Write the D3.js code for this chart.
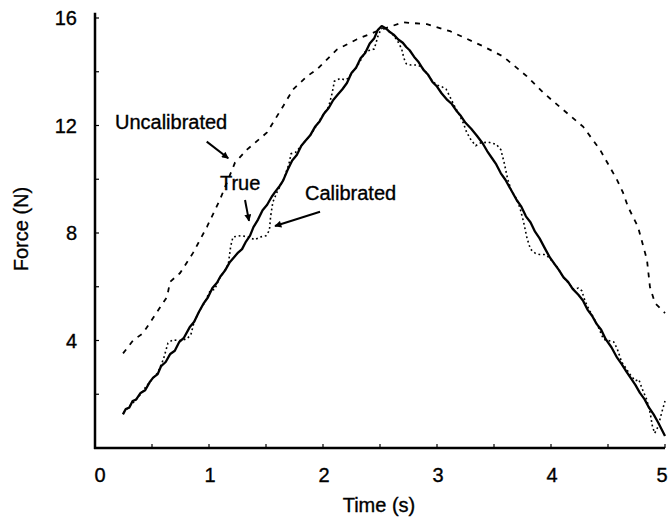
<!DOCTYPE html>
<html>
<head>
<meta charset="utf-8">
<script src="https://cdn.jsdelivr.net/npm/d3@7"></script>
<style>
  html, body { margin: 0; padding: 0; background: #fff; }
  svg { display: block; }
  text { font-family: "Liberation Sans", Arial, sans-serif; fill: #000; stroke: #000; stroke-width: 0.35px; }
</style>
</head>
<body>
<svg id="chart" width="670" height="520"></svg>
<script>
// ---------- data ----------
const xTicks = [0, 1, 2, 3, 4, 5];
const xMinorTicks = [0.5, 1, 1.5, 2, 2.5, 3, 3.5, 4, 4.5, 5];
const yTicks = [4, 8, 12, 16];
const yMinorTicks = [2, 4, 6, 8, 10, 12, 14, 16];

const trueT = [0.245,0.27,0.30,0.33,0.36,0.40,0.44,0.48,0.51,0.55,0.58,0.62,0.66,0.70,0.74,0.78,0.83,0.87,0.91,0.95,0.99,1.03,1.07,1.10,1.14,1.18,1.22,1.25,1.29,1.32,1.36,1.39,1.43,1.47,1.51,1.55,1.58,1.62,1.65,1.69,1.73,1.77,1.81,1.85,1.89,1.93,1.97,2.01,2.05,2.09,2.13,2.17,2.21,2.25,2.29,2.33,2.37,2.41,2.45,2.48,2.515,2.55,2.58,2.62,2.66,2.70,2.73,2.76,2.80,2.84,2.88,2.92,2.96,3.00,3.04,3.09,3.13,3.17,3.21,3.25,3.30,3.35,3.40,3.44,3.48,3.52,3.56,3.60,3.65,3.70,3.74,3.78,3.82,3.86,3.90,3.95,3.99,4.03,4.07,4.11,4.15,4.19,4.24,4.28,4.32,4.36,4.40,4.44,4.48,4.53,4.58,4.62,4.66,4.70,4.74,4.78,4.82,4.86,4.90,4.94,4.97,5.00];
const trueF = [1.25,1.45,1.50,1.75,1.80,2.05,2.15,2.45,2.62,2.75,3.05,3.20,3.50,3.62,3.95,4.10,4.49,4.70,5.05,5.36,5.60,5.95,6.15,6.38,6.60,6.90,7.10,7.25,7.40,7.65,7.90,8.22,8.50,8.85,9.05,9.35,9.53,9.75,9.95,10.35,10.70,10.90,11.25,11.45,11.65,11.95,12.15,12.45,12.65,12.95,13.15,13.35,13.58,13.95,14.15,14.50,14.70,15.05,15.25,15.55,15.70,15.62,15.50,15.38,15.20,15.08,14.92,14.80,14.55,14.35,14.08,13.90,13.62,13.45,13.20,12.95,12.80,12.55,12.35,12.10,11.88,11.62,11.34,11.05,10.80,10.55,10.22,9.98,9.60,9.22,8.98,8.62,8.40,8.05,7.80,7.40,7.09,6.85,6.62,6.35,6.18,5.92,5.70,5.49,5.15,4.92,4.62,4.40,4.05,3.75,3.36,3.12,2.85,2.60,2.35,2.05,1.82,1.50,1.25,0.95,0.70,0.45];

const calT = [0.25,0.30,0.35,0.40,0.45,0.50,0.55,0.60,0.64,0.68,0.74,0.80,0.84,0.87,0.91,0.96,1.01,1.05,1.09,1.13,1.17,1.19,1.21,1.28,1.35,1.40,1.45,1.50,1.53,1.54,1.56,1.60,1.65,1.70,1.72,1.76,1.80,1.85,1.90,1.95,2.00,2.05,2.08,2.10,2.15,2.19,2.22,2.26,2.30,2.34,2.37,2.41,2.45,2.48,2.51,2.54,2.58,2.62,2.66,2.69,2.71,2.73,2.77,2.82,2.86,2.90,2.95,3.00,3.04,3.08,3.11,3.15,3.19,3.23,3.26,3.30,3.34,3.38,3.45,3.52,3.56,3.59,3.62,3.65,3.70,3.73,3.76,3.79,3.82,3.86,3.90,3.94,3.98,4.02,4.06,4.10,4.15,4.20,4.24,4.27,4.30,4.34,4.38,4.42,4.46,4.50,4.55,4.58,4.62,4.66,4.70,4.74,4.77,4.80,4.84,4.87,4.89,4.91,4.94,4.97,5.00];
const calF = [1.30,1.55,1.75,2.00,2.30,2.55,2.80,3.30,3.90,4.02,4.00,4.05,4.20,4.70,5.05,5.40,5.85,5.90,6.30,6.55,6.85,7.50,7.85,7.90,7.85,7.75,7.85,7.90,8.10,8.60,9.15,9.55,9.95,10.55,10.95,11.00,11.20,11.45,11.70,12.05,12.40,12.70,13.20,13.65,13.75,13.70,13.75,14.00,14.20,14.50,14.75,14.80,14.85,15.30,15.60,15.65,15.50,15.35,15.10,14.85,14.50,14.30,14.25,14.25,14.20,14.00,13.70,13.50,13.45,13.35,13.10,12.75,12.45,12.10,11.75,11.45,11.25,11.35,11.38,11.30,11.10,10.60,10.00,9.60,9.25,8.90,8.40,7.80,7.40,7.25,7.20,7.20,7.10,6.90,6.70,6.40,6.15,5.90,5.95,5.85,5.45,5.10,4.80,4.45,4.05,4.00,3.95,3.70,3.20,2.95,2.70,2.50,2.55,2.20,1.80,1.30,0.80,0.55,0.80,1.30,1.75];

const uncalT = [0.246,0.333,0.421,0.544,0.632,0.658,0.746,0.860,0.982,1.096,1.228,1.333,1.404,1.509,1.649,1.737,1.860,1.947,2.123,2.298,2.474,2.702,2.912,3.114,3.404,3.579,3.789,3.930,4.105,4.281,4.430,4.579,4.632,4.675,4.763,4.842,4.868,4.912,5.000];
const uncalF = [3.52,4.00,4.27,5.06,5.62,6.18,6.51,7.26,8.23,9.24,10.62,11.10,11.36,11.74,12.71,13.34,13.83,14.09,14.83,15.21,15.51,15.84,15.77,15.51,14.95,14.57,13.83,13.23,12.59,11.96,11.10,9.98,9.50,8.98,8.23,7.00,5.99,5.39,5.02];

const labels = ["Uncalibrated", "True", "Calibrated"];

// ---------- scales ----------
const svg = d3.select("#chart");
const x = d3.scaleLinear().domain([0, 5]).range([95, 665]);
const y = d3.scaleLinear().domain([0, 16]).range([448, 18]);

const zip = (a, b) => a.map((v, i) => [v, b[i]]);
const line = d3.line().x(d => x(d[0])).y(d => y(d[1]));

// ---------- axes ----------
const axisColor = "#000";
svg.append("line").attr("x1", x(0)).attr("x2", x(0))
  .attr("y1", y(16.2)).attr("y2", y(0) + 1)
  .attr("stroke", axisColor).attr("stroke-width", 2.5);
svg.append("line").attr("x1", x(0) - 1).attr("x2", x(5))
  .attr("y1", y(0)).attr("y2", y(0))
  .attr("stroke", axisColor).attr("stroke-width", 2.5);

svg.append("g").selectAll("line").data(yMinorTicks).join("line")
  .attr("x1", x(0)).attr("x2", x(0) + 4)
  .attr("y1", d => y(d)).attr("y2", d => y(d))
  .attr("stroke", axisColor).attr("stroke-width", 1.2);
svg.append("g").selectAll("line").data(xMinorTicks).join("line")
  .attr("x1", d => x(d)).attr("x2", d => x(d))
  .attr("y1", y(0)).attr("y2", y(0) - 4)
  .attr("stroke", axisColor).attr("stroke-width", 1.2);

svg.append("g").selectAll("text").data(yTicks).join("text")
  .attr("x", x(0) - 18).attr("y", d => y(d)).attr("dy", "0.36em")
  .attr("text-anchor", "end").attr("font-size", 20)
  .text(d => d);
svg.append("g").selectAll("text").data(xTicks).join("text")
  .attr("x", d => x(d) + (d === 0 ? 5 : d === 5 ? -3 : 1)).attr("y", 482)
  .attr("text-anchor", "middle").attr("font-size", 20)
  .text(d => d);

svg.append("text").attr("x", 379).attr("y", 512)
  .attr("text-anchor", "middle").attr("font-size", 20).text("Time (s)");
svg.append("text").attr("transform", "translate(28,229) rotate(-90)")
  .attr("text-anchor", "middle").attr("font-size", 20).text("Force (N)");

// ---------- series ----------
svg.append("path").datum(zip(uncalT, uncalF))
  .attr("d", line).attr("fill", "none").attr("stroke", "#000")
  .attr("stroke-width", 1.8).attr("stroke-dasharray", "5,6");
svg.append("path").datum(zip(calT, calF))
  .attr("d", line).attr("fill", "none").attr("stroke", "#000")
  .attr("stroke-width", 1.6).attr("stroke-dasharray", "1.8,2.8");
svg.append("path").datum(zip(trueT, trueF))
  .attr("d", line).attr("fill", "none").attr("stroke", "#000")
  .attr("stroke-width", 2.3).attr("stroke-linejoin", "round");

// ---------- annotations ----------
const defs = svg.append("defs");
defs.append("marker").attr("id", "arrow")
  .attr("viewBox", "0 0 10 10").attr("refX", 9).attr("refY", 5)
  .attr("markerWidth", 9).attr("markerHeight", 7)
  .attr("markerUnits", "userSpaceOnUse")
  .attr("orient", "auto")
  .append("path").attr("d", "M0,0 L10,5 L0,10 Z").attr("fill", "#000");

const ann = [
  { text: labels[0], tx: 0.175, ty: 11.87, a: [0.98, 11.40, 1.169, 10.78] },
  { text: labels[1], tx: 1.096, ty: 9.60, a: [1.316, 9.23, 1.351, 8.45] },
  { text: labels[2], tx: 1.842, ty: 9.23, a: [1.974, 8.79, 1.579, 8.26] }
];
ann.forEach(d => {
  svg.append("text").attr("x", x(d.tx)).attr("y", y(d.ty))
    .attr("font-size", 20).text(d.text);
  svg.append("line")
    .attr("x1", x(d.a[0])).attr("y1", y(d.a[1]))
    .attr("x2", x(d.a[2])).attr("y2", y(d.a[3]))
    .attr("stroke", "#000").attr("stroke-width", 2)
    .attr("marker-end", "url(#arrow)");
});
</script>
</body>
</html>
